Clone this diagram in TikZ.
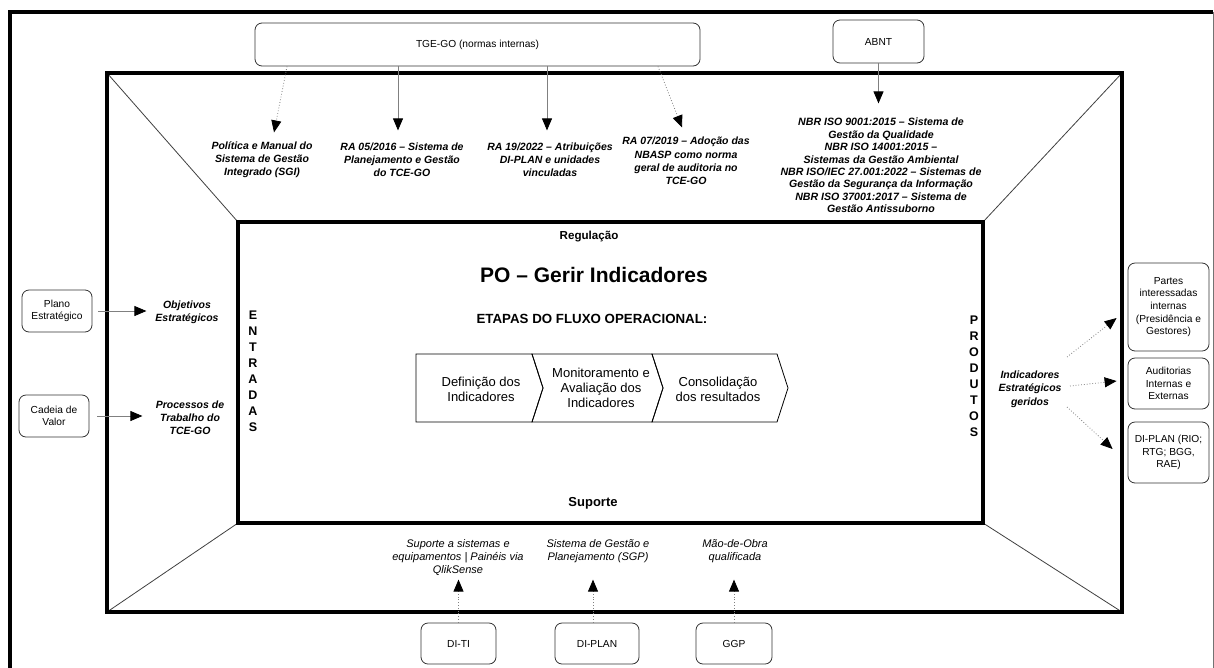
\documentclass[tikz,border=0pt]{standalone}
\usepackage{fontspec}
\setmainfont{Liberation Sans}
\usetikzlibrary{arrows.meta,calc}
\begin{document}
\begin{tikzpicture}[x=1pt,y=-1pt,
  every node/.style={inner sep=2pt, align=center},
  frame/.style={line width=3.8pt, black, line join=miter},
  diag/.style={line width=0.8pt, black!75},
  rbox/.style={draw=black!80, line width=0.8pt, rounded corners=7pt, font=\fontsize{10.2}{12.6}\selectfont},
  arr/.style={draw=black!50, line width=0.8pt, -{Triangle[length=12pt,width=10pt,color=black]}},
  darr/.style={arr, dotted},
  tnote/.style={font=\fontsize{10.5}{13.2}\selectfont\bfseries\itshape},
  snote/.style={font=\fontsize{11}{13}\selectfont\itshape},
  chev/.style={draw=black, line width=0.8pt},
  ctext/.style={font=\fontsize{13}{14.8}\selectfont},
  vlet/.style={font=\fontsize{12.5}{16}\selectfont\bfseries}
]
\useasboundingbox (0,0) rectangle (1214,667);
\fill[white] (0,0) rectangle (1214,667);

% outer frame
\draw[frame] (10,672) -- (10,12) -- (1213,12);
\draw[black!55, line width=0.8pt] (1213,12) -- (1213,672);

% diagonals
\draw[diag] (107,73) -- (238,222);
\draw[diag] (1122,73) -- (983,222);
\draw[diag] (107,612) -- (238,523);
\draw[diag] (1122,612) -- (983,523);

% middle and inner frames
\draw[frame] (107,73) rectangle (1122,612);
\draw[frame] (238,222) rectangle (983,523);

% top boxes
\node[rbox, minimum width=445pt, minimum height=43pt] (tge) at (477.5,44.5) {TGE-GO (normas internas)};
\node[rbox, minimum width=91pt, minimum height=43pt] (abnt) at (878.5,41.5) {ABNT};

% top texts
\node[tnote] (pol) at (262,160) {Política e Manual do\\Sistema de Gestão\\Integrado (SGI)};
\node[tnote] (ra05) at (402,160) {RA 05/2016 – Sistema de\\Planejamento e Gestão\\do TCE-GO};
\node[tnote] (ra19) at (550,160) {RA 19/2022 – Atribuições\\DI-PLAN e unidades\\vinculadas};
\node[tnote] (ra07) at (686,161) {RA 07/2019 – Adoção das\\NBASP como norma\\geral de auditoria no\\TCE-GO};
\node[tnote, font=\fontsize{10.6}{12.4}\selectfont\bfseries\itshape] (nbr) at (881,165.5) {NBR ISO 9001:2015 – Sistema de\\Gestão da Qualidade\\NBR ISO 14001:2015 –\\Sistemas da Gestão Ambiental\\NBR ISO/IEC 27.001:2022 – Sistemas de\\Gestão da Segurança da Informação\\NBR ISO 37001:2017 – Sistema de\\Gestão Antissuborno};

\draw[darr] ($(tge.south)+(-190.5,0)$) -- ($(tge.south)+(-203.5,66)$);
\draw[arr] ($(tge.south)+(-79.5,0)$) -- ($(tge.south)+(-79.5,64)$);
\draw[arr] ($(tge.south)+(69.5,0)$) -- ($(tge.south)+(69.5,64)$);
\draw[darr] ($(tge.south)+(180.5,0)$) -- ($(tge.south)+(204.5,61)$);
\draw[arr] (abnt.south) -- ($(abnt.south)+(0,40)$);

% inner texts
\node[font=\fontsize{11.6}{13}\selectfont\bfseries] (reg) at (589,237) {Regulação};
\node[font=\fontsize{21}{24}\selectfont\bfseries] (po) at (594,275) {PO – Gerir Indicadores};
\node[font=\fontsize{13.3}{15}\selectfont\bfseries] (etapas) at (592,319) {ETAPAS DO FLUXO OPERACIONAL:};
\node[font=\fontsize{13}{15}\selectfont\bfseries] (sup) at (593,503) {Suporte};

% chevrons
\draw[chev] (416,354) -- (532,354) -- (543,388) -- (532,422) -- (416,422) -- cycle;
\draw[chev] (532,354) -- (652,354) -- (663,388) -- (652,422) -- (532,422) -- (543,388) -- cycle;
\draw[chev] (652,354) -- (777,354) -- (788,388) -- (777,422) -- (652,422) -- (663,388) -- cycle;
\node[ctext] (c1) at (481,389) {Definição dos\\Indicadores};
\node[ctext] (c2) at (601,388) {Monitoramento e\\Avaliação dos\\Indicadores};
\node[ctext] (c3) at (718,389) {Consolidação\\dos resultados};

% vertical letters
\node[vlet] (entr) at (253,371) {E\\N\\T\\R\\A\\D\\A\\S};
\node[vlet] (prod) at (974,376) {P\\R\\O\\D\\U\\T\\O\\S};

% left
\node[rbox, minimum width=70pt, minimum height=42pt] (plano) at (57,311) {Plano\\Estratégico};
\node[rbox, minimum width=70pt, minimum height=42pt] (cadeia) at (54,416) {Cadeia de\\Valor};
\node[tnote] (obj) at (187,312.5) {Objetivos\\Estratégicos};
\node[tnote] (proc) at (190,418) {Processos de\\Trabalho do\\TCE-GO};
\draw[arr] ($(plano.east)+(6,0)$) -- ($(plano.east)+(54,0)$);
\draw[arr] ($(cadeia.east)+(8,0)$) -- ($(cadeia.east)+(53,0)$);

% right
\node[rbox, minimum width=81pt, minimum height=88pt] (partes) at (1168.5,307) {Partes\\interessadas\\internas\\(Presidência e\\Gestores)};
\node[rbox, minimum width=81pt, minimum height=51pt] (audit) at (1168.5,383.5) {Auditorias\\Internas e\\Externas};
\node[rbox, minimum width=81pt, minimum height=61pt] (dipr) at (1168.5,452.5) {DI-PLAN (RIO;\\RTG; BGG,\\RAE)};
\node[tnote, font=\fontsize{10.5}{13.5}\selectfont\bfseries\itshape] (ind) at (1030,389) {Indicadores\\Estratégicos\\geridos};
\draw[darr] ($(ind.center)+(37,-32)$) -- ($(partes.west)+(-11,11)$);
\draw[darr] ($(ind.center)+(40,-3)$) -- ($(audit.west)+(-11,-2.5)$);
\draw[darr] ($(ind.center)+(37,18)$) -- ($(dipr.west)+(-15,-3.5)$);

% bottom
\node[snote] (s1) at (458,558) {Suporte a sistemas e\\equipamentos | Painéis via\\QlikSense};
\node[snote] (s2) at (598,551.5) {Sistema de Gestão e\\Planejamento (SGP)};
\node[snote] (s3) at (735,551.5) {Mão-de-Obra\\qualificada};
\node[rbox, minimum width=75pt, minimum height=41pt] (diti) at (458.5,643.5) {DI-TI};
\node[rbox, minimum width=84pt, minimum height=41pt] (diplb) at (597,643.5) {DI-PLAN};
\node[rbox, minimum width=76pt, minimum height=41pt] (ggp) at (734,643.5) {GGP};
\draw[darr] (diti.north) -- ($(diti.north)+(0,-43)$);
\draw[darr] ([xshift=-4pt]diplb.north) -- ($([xshift=-4pt]diplb.north)+(0,-43)$);
\draw[darr] (ggp.north) -- ($(ggp.north)+(0,-43)$);
\end{tikzpicture}
\end{document}
